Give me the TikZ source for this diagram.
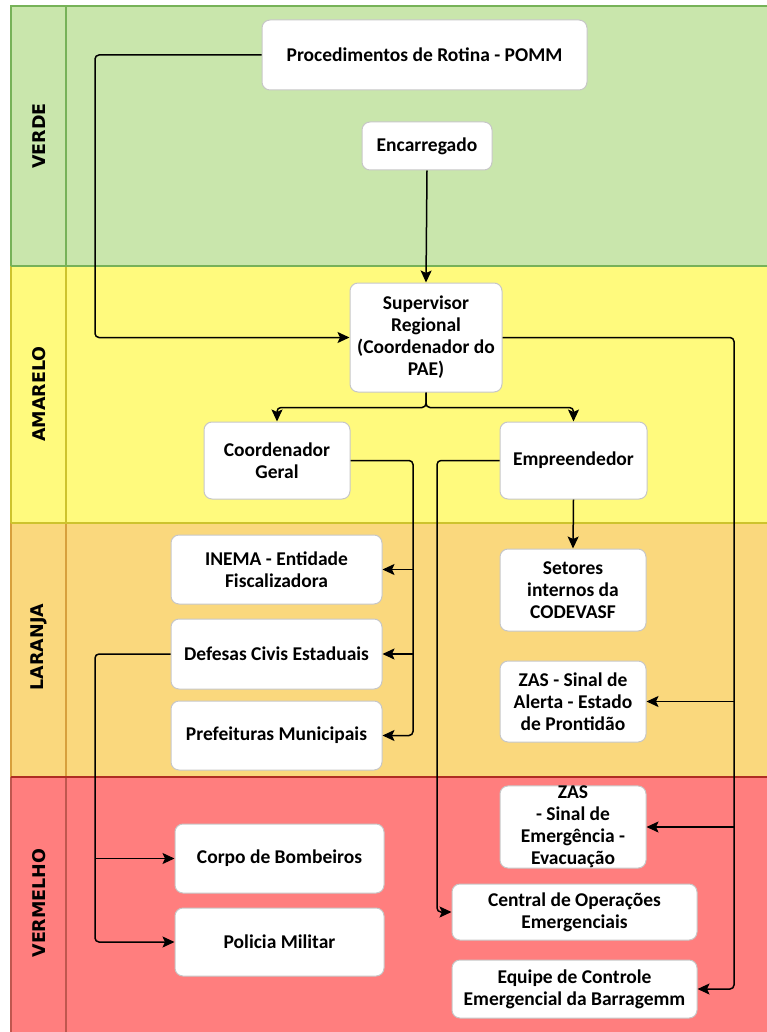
\documentclass[tikz,border=0pt]{standalone}
\usepackage{fontspec}
\setmainfont{Carlito}
\newfontfamily\lanefont{DejaVu Sans}
\usetikzlibrary{arrows.meta}
\definecolor{verdeF}{RGB}{201,230,172}
\definecolor{verdeB}{RGB}{118,178,88}
\definecolor{amareloF}{RGB}{255,250,125}
\definecolor{amareloB}{RGB}{205,195,45}
\definecolor{laranjaF}{RGB}{250,216,125}
\definecolor{laranjaB}{RGB}{215,160,60}
\definecolor{vermelhoF}{RGB}{255,126,126}
\definecolor{vermelhoB}{RGB}{175,45,35}
\begin{document}
\begin{tikzpicture}[x=1pt,y=-1pt,
  box/.style={draw=black!22, fill=white, rounded corners=8pt, line width=1pt,
    align=center, inner sep=0pt, font=\bfseries\fontsize{19.5}{22}\selectfont},
  conn/.style={line width=1.5pt, rounded corners=4pt},
  arr/.style={conn, -{Stealth[length=12pt,width=11pt,inset=2.5pt]}},
  lanelbl/.style={rotate=90, font=\lanefont\bfseries\fontsize{17.5}{20}\selectfont},
  laneline/.style={line width=1.5pt}
]
\useasboundingbox (0,0) rectangle (767,1032);
% lanes
\fill[verdeF] (11,6) rectangle (767,266);
\fill[amareloF] (11,266) rectangle (767,523);
\fill[laranjaF] (11,523) rectangle (767,777);
\fill[vermelhoF] (11,777) rectangle (767,1032);
\draw[laneline,verdeB] (767,6) -- (11,6) -- (11,266);
\draw[laneline,verdeB] (66,6) -- (66,266);
\draw[laneline,amareloB] (11,266) -- (11,523);
\draw[laneline,amareloB] (66,266) -- (66,523);
\draw[laneline,laranjaB] (11,523) -- (11,777);
\draw[laneline,laranjaB] (66,523) -- (66,777);
\draw[laneline,vermelhoB!80] (11,777) -- (11,1032);
\draw[laneline,vermelhoB!80] (66,777) -- (66,1032);
\draw[laneline,verdeB] (11,266) -- (767,266);
\draw[laneline,amareloB] (11,523) -- (767,523);
\draw[laneline,vermelhoB] (11,777) -- (767,777);
\node[lanelbl] (lv) at (39,136) {VERDE};
\node[lanelbl] (la) at (39,394) {AMARELO};
\node[lanelbl] (ll) at (39,647) {LARANJA};
\node[lanelbl] (lr) at (39,903) {VERMELHO};
% nodes
\node[box, minimum width=325pt, minimum height=70pt] (pomm) at (424.5,55) {Procedimentos de Rotina - POMM};
\node[box, minimum width=130pt, minimum height=48pt] (enc) at (427,146) {Encarregado};
\node[box, minimum width=152pt, minimum height=109pt] (sup) at (426,337.5) {Supervisor\\Regional\\(Coordenador do\\PAE)};
\node[box, minimum width=146pt, minimum height=77pt] (coord) at (277,460.5) {Coordenador\\Geral};
\node[box, minimum width=147pt, minimum height=77pt] (emp) at (573.5,460.5) {Empreendedor};
\node[box, minimum width=211pt, minimum height=69pt] (inema) at (276.5,569.5) {INEMA - Entidade\\Fiscalizadora};
\node[box, minimum width=146pt, minimum height=82pt] (set) at (573,590) {Setores\\internos da\\CODEVASF};
\node[box, minimum width=211pt, minimum height=70pt] (def) at (276.5,654) {Defesas Civis Estaduais};
\node[box, minimum width=146pt, minimum height=81pt] (zas1) at (573,701.5) {ZAS - Sinal de\\Alerta - Estado\\de Prontidão};
\node[box, minimum width=211pt, minimum height=69pt] (pref) at (276.5,735.5) {Prefeituras Municipais};
\node[box, minimum width=146pt, minimum height=82pt] (zas2) at (573,827) {ZAS\\- Sinal de\\Emergência -\\Evacuação};
\node[box, minimum width=209pt, minimum height=69pt] (corpo) at (279.5,858.5) {Corpo de Bombeiros};
\node[box, minimum width=245pt, minimum height=56pt] (cent) at (574.5,912) {Central de Operações\\Emergenciais};
\node[box, minimum width=209pt, minimum height=68pt] (pol) at (279.5,942) {Policia Militar};
\node[box, minimum width=245pt, minimum height=58pt] (equ) at (574.5,989) {Equipe de Controle\\Emergencial da Barragemm};
% guide coordinates
\coordinate (xl) at (95,0);
\coordinate (xc) at (413,0);
\coordinate (xe) at (437,0);
\coordinate (xr) at (734,0);
% connectors
\draw[arr] (pomm.west) -| (xl |- sup.west) -- (sup.west);
\draw[arr] (enc.south) -- (sup.north);
\draw[arr] (sup.south) -- ++(0,15) -| (coord.north);
\draw[arr] (sup.south) -- ++(0,15) -| (emp.north);
\draw[arr] (sup.east) -| (xr |- equ.east) -- (equ.east);
\draw[arr] (xr |- zas1.east) -- (zas1.east);
\draw[arr] (xr |- zas2.east) -- (zas2.east);
\draw[arr] (coord.east) -| (xc |- pref.east) -- (pref.east);
\draw[arr] (xc |- inema.east) -- (inema.east);
\draw[arr] (xc |- def.east) -- (def.east);
\draw[arr] (emp.west) -| (xe |- cent.west) -- (cent.west);
\draw[arr] (emp.south) -- (set.north);
\draw[arr] (def.west) -| (xl |- pol.west) -- (pol.west);
\draw[arr] (xl |- corpo.west) -- (corpo.west);
\end{tikzpicture}
\end{document}
